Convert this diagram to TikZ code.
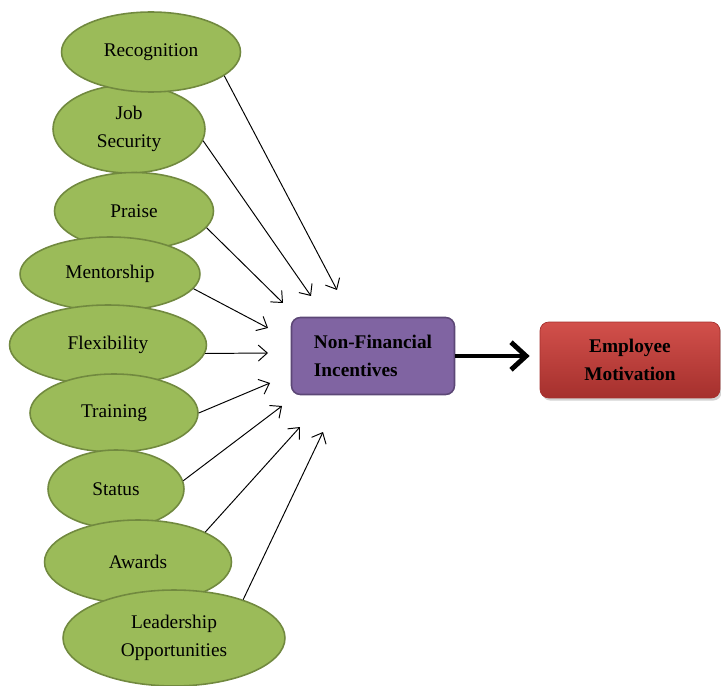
\documentclass[tikz,border=0pt]{standalone}
\usepackage{fontspec}
\setmainfont{Liberation Serif}
\usetikzlibrary{arrows.meta,shapes.geometric,shadows}
\definecolor{leafgreen}{HTML}{9BBB59}
\definecolor{leafedge}{HTML}{71893F}
\definecolor{incpurple}{HTML}{8064A2}
\definecolor{incedge}{HTML}{5C4776}
\definecolor{motredtop}{HTML}{D2504B}
\definecolor{motredbot}{HTML}{A5302D}
\tikzset{
    incentive/.style={
        ellipse, draw=leafedge, fill=leafgreen, line width=0.9pt,
        inner sep=0pt, align=center,
        font=\fontsize{11}{16}\selectfont
    },
    feeds/.style={
        draw=black, line width=0.55pt,
        -{Straight Barb[length=1.8mm,width=3.2mm]}
    },
    centre box/.style={
        rounded corners=5pt, draw=incedge, fill=incpurple, line width=0.9pt,
        minimum width=3.26cm, minimum height=1.54cm, align=left,
        font=\fontsize{11}{16}\selectfont\bfseries
    },
    outcome box/.style={
        rounded corners=5pt, draw=motredbot, line width=0.4pt,
        top color=motredtop, bottom color=motredbot,
        drop shadow={opacity=0.35, shadow xshift=1pt, shadow yshift=-1.5pt},
        minimum width=3.6cm, minimum height=1.52cm, align=center,
        font=\fontsize{11}{16}\selectfont\bfseries
    }
}
\begin{document}
\begin{tikzpicture}[x=0.02cm, y=-0.02cm]
    \useasboundingbox (0,0) rectangle (721,686);
    % the nine incentives, each lower one lies over the one above it
    \node[incentive, minimum width=3.04cm, minimum height=1.76cm] (jobsec) at (129,129) {Job\\Security};
    \node[incentive, minimum width=3.58cm, minimum height=1.6cm] (recog) at (151,52) {Recognition};
    \node[incentive, minimum width=3.18cm, minimum height=1.54cm] (praise) at (134,211) {Praise};
    \node[incentive, minimum width=3.6cm, minimum height=1.48cm] (mentor) at (110,274) {Mentorship};
    \node[incentive, minimum width=3.94cm, minimum height=1.6cm] (flex) at (108,345) {Flexibility};
    \node[incentive, minimum width=3.36cm, minimum height=1.56cm] (train) at (114,413) {Training};
    \node[incentive, minimum width=2.72cm, minimum height=1.56cm] (status) at (116,489) {Status};
    \node[incentive, minimum width=3.74cm, minimum height=1.68cm] (awards) at (138,562) {Awards};
    \node[incentive, minimum width=4.44cm, minimum height=1.92cm] (lead) at (174,638) {Leadership\\Opportunities};

    \node[centre box] (nfi) at (373,356) {Non-Financial\\Incentives};
    \node[outcome box] (motiv) at (630,360) {Employee\\Motivation};

    % arrow heads stop short of the box
    \coordinate (T1) at (337,290);
    \coordinate (T2) at (311,296);
    \coordinate (T3) at (283,303);
    \coordinate (T4) at (268,328);
    \coordinate (T5) at (268,353);
    \coordinate (T6) at (270,383);
    \coordinate (T7) at (282,406);
    \coordinate (T8) at (300,427);
    \coordinate (T9) at (323,432);

    \draw[feeds] (recog.-18) -- (T1);
    \draw[feeds] (jobsec.-9) -- (T2);
    \draw[feeds] (praise.-13) -- (T3);
    \draw[feeds] (mentor.-10) -- (T4);
    \draw[feeds] (flex.-5) -- (T5);
    \draw[feeds] (train.0) -- (T6);
    \draw[feeds] (status.7) -- (T7);
    \draw[feeds] (awards.24) -- (T8);
    \draw[feeds] (lead.29) -- (T9);

    \draw[line width=2.8pt, -{Straight Barb[length=3mm,width=5.5mm]}] (nfi.east) -- ([xshift=-0.2cm]motiv.west |- nfi.east);
\end{tikzpicture}
\end{document}
